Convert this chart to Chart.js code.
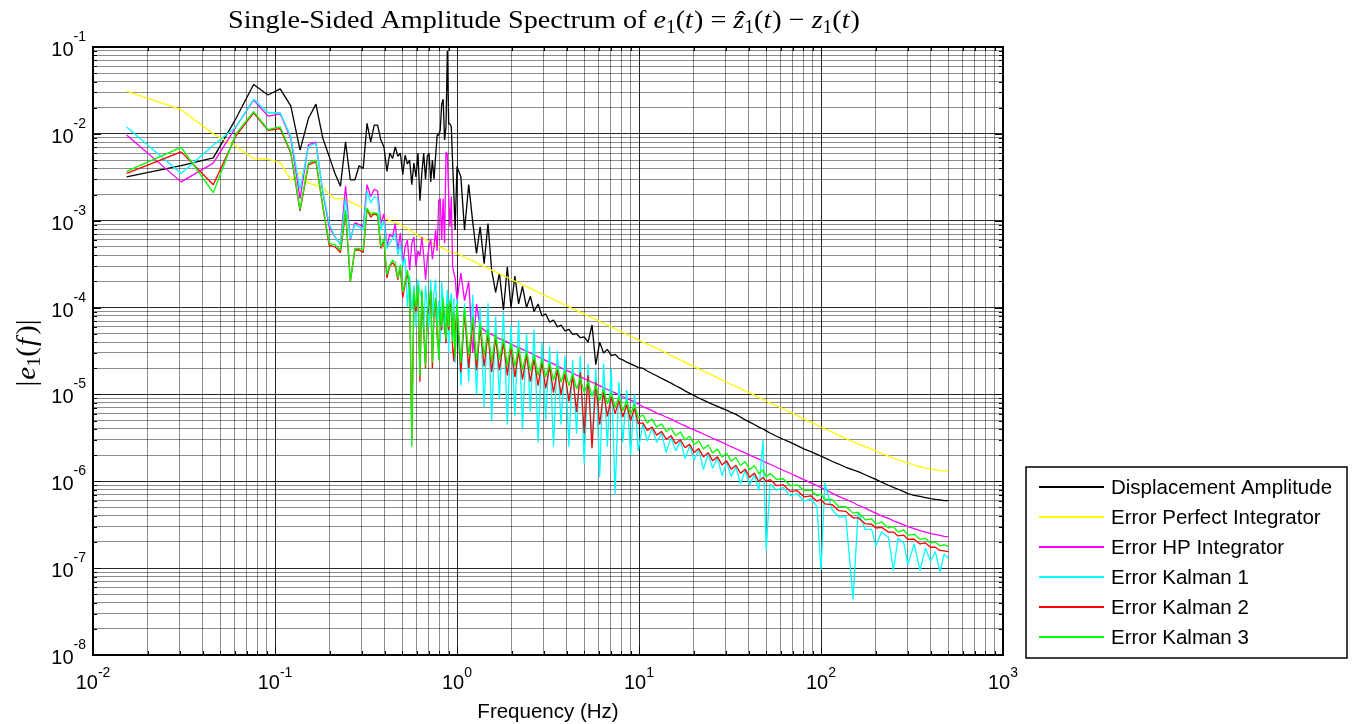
<!DOCTYPE html>
<html>
<head>
<meta charset="utf-8">
<title>Single-Sided Amplitude Spectrum</title>
<script src="https://cdn.jsdelivr.net/npm/chart.js@4.4.1/dist/chart.umd.min.js"></script>
<style>
  html, body { margin: 0; padding: 0; background: #fff; }
  #wrap { width: 1356px; height: 724px; }
</style>
</head>
<body>
<div id="wrap"><canvas id="spectrum" width="1356" height="724"></canvas></div>
<script>
// ---- data ----

// frequency axis (Hz): FFT bins below 1 Hz, then a reduced grid above
const freqHz = [
  0.0153, 0.0305, 0.0458, 0.0610, 0.0763, 0.0916, 0.1068, 0.1221, 0.1373, 0.1526,
  0.1678, 0.1831, 0.1984, 0.2136, 0.2289, 0.2441, 0.2594, 0.2747, 0.2899, 0.3052,
  0.3204, 0.3357, 0.3510, 0.3662, 0.3815, 0.3967, 0.4120, 0.4272, 0.4425, 0.4578,
  0.4730, 0.4883, 0.5035, 0.5188, 0.5341, 0.5493, 0.5646, 0.5798, 0.5951, 0.6104,
  0.6256, 0.6409, 0.6561, 0.6714, 0.6867, 0.7019, 0.7172, 0.7324, 0.7477, 0.7629,
  0.7782, 0.7935, 0.8087, 0.8240, 0.8392, 0.8545, 0.8698, 0.8850, 0.9003, 0.9155,
  0.9308, 0.9460, 0.9613, 0.9766,
  1.00, 1.05, 1.10, 1.16, 1.22, 1.28, 1.34, 1.41, 1.48, 1.55,
  1.63, 1.71, 1.80, 1.89, 1.98, 2.08, 2.18, 2.29, 2.41, 2.53,
  2.65, 2.79, 2.93, 3.07, 3.23, 3.39, 3.56, 3.73, 3.92, 4.12,
  4.32, 4.54, 4.76, 5.00, 5.25, 5.52, 5.79, 6.08, 6.39, 6.70,
  7.04, 7.39, 7.76, 8.15, 8.56, 8.99, 9.44, 9.91,
  10.5, 11.1, 11.8, 12.5, 13.3, 14.1, 15.0, 15.9, 16.9, 17.9,
  19.0, 20.1, 21.3, 22.6, 24.0, 25.4, 27.0, 28.6, 30.3, 32.1,
  34.1, 36.1, 38.3, 40.6, 43.0, 45.6, 48.0, 50.0, 52.5, 57,
  62, 68, 74, 81, 88, 95, 100, 105, 115, 125,
  137, 150, 160, 175, 190, 200, 215, 235, 250, 265,
  285, 300, 325, 350, 375, 400, 425, 450, 475, 500
];

const dispAmp = [
  3.2e-3, 4.3e-3, 5.3e-3, 1.5e-2, 3.7e-2, 2.8e-2, 3.3e-2, 2.1e-2, 6.5e-3, 1.5e-2,
  2.2e-2, 8.9e-3, 5.5e-3, 3.5e-3, 2.5e-3, 8.1e-3, 2.95e-3, 2.95e-3, 4.3e-3, 4.0e-3,
  1.32e-2, 8.1e-3, 1.26e-2, 1.26e-2, 8.5e-3, 7.1e-3, 3.7e-3, 6.0e-3, 5.2e-3, 7.1e-3,
  5.5e-3, 6.0e-3, 3.4e-3, 5.7e-3, 4.5e-3, 5.0e-3, 2.6e-3, 4.6e-3, 3.2e-3, 6.0e-3,
  1.7e-3, 3.5e-3, 6.0e-3, 3.0e-3, 5.5e-3, 6.0e-3, 2.8e-3, 5.0e-3, 3.0e-3, 5.5e-3,
  9.7e-3, 9.7e-3, 1.1e-2, 2.2e-2, 2.5e-2, 8.5e-3, 1.2e-2, 9.0e-2, 1.3e-2, 1.3e-2,
  1.2e-2, 4.6e-3, 2.0e-3, 7.8e-4,
  4.2e-3, 3.2e-3, 7.8e-4, 2.6e-3, 9.7e-4, 4.2e-4, 8.5e-4, 3.2e-4, 9.3e-4, 2.7e-4,
  1.5e-4, 2.5e-4, 9.4e-5, 2.95e-4, 1.0e-4, 2.3e-4, 1.1e-4, 1.75e-4, 1.0e-4, 1.35e-4,
  9.0e-5, 1.1e-4, 8.0e-5, 8.5e-5, 6.8e-5, 7.2e-5, 6.0e-5, 6.3e-5, 5.4e-5, 5.6e-5,
  4.9e-5, 5.0e-5, 4.5e-5, 4.6e-5, 4.0e-5, 6.3e-5, 2.2e-5, 4.0e-5, 3.0e-5, 3.3e-5,
  2.8e-5, 2.9e-5, 2.6e-5, 2.5e-5, 2.35e-5, 2.25e-5, 2.15e-5, 2.05e-5,
  2.0e-5, 1.86e-5, 1.74e-5, 1.64e-5, 1.53e-5, 1.44e-5, 1.35e-5, 1.26e-5, 1.18e-5, 1.10e-5,
  1.03e-5, 9.7e-6, 9.1e-6, 8.6e-6, 8.1e-6, 7.7e-6, 7.3e-6, 6.9e-6, 6.6e-6, 6.2e-6,
  5.9e-6, 5.5e-6, 5.1e-6, 4.8e-6, 4.5e-6, 4.2e-6, 4.0e-6, 3.8e-6, 3.6e-6, 3.3e-6,
  3.05e-6, 2.8e-6, 2.57e-6, 2.35e-6, 2.2e-6, 2.04e-6, 1.95e-6, 1.86e-6, 1.7e-6, 1.58e-6,
  1.45e-6, 1.35e-6, 1.29e-6, 1.19e-6, 1.1e-6, 1.05e-6, 9.8e-7, 9.0e-7, 8.5e-7, 8.1e-7,
  7.6e-7, 7.2e-7, 6.9e-7, 6.7e-7, 6.5e-7, 6.3e-7, 6.2e-7, 6.1e-7, 6.0e-7, 6.0e-7
];

const errPerfect = [
  3.1e-2, 1.9e-2, 1.0e-2, 7.2e-3, 5.2e-3, 5.1e-3, 4.7e-3, 2.95e-3, 3.6e-3, 2.7e-3,
  2.55e-3, 2.45e-3, 2.0e-3, 1.8e-3, 1.8e-3, 1.8e-3, 1.65e-3, 1.55e-3, 1.48e-3, 1.4e-3,
  1.33e-3, 1.25e-3, 1.2e-3, 1.15e-3, 1.1e-3, 1.07e-3, 1.04e-3, 1.0e-3, 9.7e-4, 9.5e-4,
  9.3e-4, 9.1e-4, 8.7e-4, 8.4e-4, 8.1e-4, 7.8e-4, 7.5e-4, 7.2e-4, 7.0e-4, 6.8e-4,
  6.6e-4, 6.4e-4, 6.2e-4, 6.0e-4, 5.9e-4, 5.7e-4, 5.6e-4, 5.5e-4, 5.35e-4, 5.2e-4,
  5.1e-4, 5.0e-4, 4.95e-4, 4.9e-4, 4.8e-4, 4.7e-4, 4.6e-4, 4.5e-4, 4.45e-4, 4.4e-4,
  4.35e-4, 4.3e-4, 4.25e-4, 4.2e-4,
  4.2e-4, 4.0e-4, 3.8e-4, 3.6e-4, 3.45e-4, 3.3e-4, 3.1e-4, 2.98e-4, 2.84e-4, 2.7e-4,
  2.58e-4, 2.46e-4, 2.33e-4, 2.22e-4, 2.12e-4, 2.02e-4, 1.93e-4, 1.83e-4, 1.74e-4, 1.66e-4,
  1.58e-4, 1.5e-4, 1.43e-4, 1.37e-4, 1.3e-4, 1.24e-4, 1.18e-4, 1.13e-4, 1.07e-4, 1.02e-4,
  9.7e-5, 9.3e-5, 8.8e-5, 8.4e-5, 8.0e-5, 7.6e-5, 7.3e-5, 6.9e-5, 6.6e-5, 6.3e-5,
  6.0e-5, 5.7e-5, 5.4e-5, 5.2e-5, 4.9e-5, 4.7e-5, 4.45e-5, 4.25e-5,
  4.0e-5, 3.8e-5, 3.6e-5, 3.4e-5, 3.2e-5, 3.0e-5, 2.8e-5, 2.65e-5, 2.5e-5, 2.35e-5,
  2.2e-5, 2.1e-5, 1.97e-5, 1.86e-5, 1.75e-5, 1.66e-5, 1.56e-5, 1.47e-5, 1.39e-5, 1.31e-5,
  1.24e-5, 1.17e-5, 1.1e-5, 1.04e-5, 9.8e-6, 9.2e-6, 8.8e-6, 8.4e-6, 8.0e-6, 7.4e-6,
  6.8e-6, 6.2e-6, 5.7e-6, 5.2e-6, 4.8e-6, 4.45e-6, 4.2e-6, 4.0e-6, 3.7e-6, 3.4e-6,
  3.1e-6, 2.85e-6, 2.7e-6, 2.5e-6, 2.33e-6, 2.23e-6, 2.1e-6, 1.95e-6, 1.85e-6, 1.77e-6,
  1.68e-6, 1.62e-6, 1.54e-6, 1.47e-6, 1.42e-6, 1.38e-6, 1.35e-6, 1.33e-6, 1.32e-6, 1.32e-6
];

const errHP = [
  9.7e-3, 2.8e-3, 4.6e-3, 1.2e-2, 2.45e-2, 1.6e-2, 1.7e-2, 8.9e-3, 1.8e-3, 7.5e-3,
  8.0e-3, 2.1e-3, 8.5e-4, 6.5e-4, 5.3e-4, 2.5e-3, 6.0e-4, 9.5e-4, 9.0e-4, 8.5e-4,
  2.6e-3, 1.9e-3, 2.3e-3, 2.2e-3, 9.3e-4, 1.2e-3, 5.0e-4, 7.0e-4, 6.5e-4, 9.3e-4,
  4.6e-4, 7.2e-4, 3.2e-4, 5.0e-4, 6.0e-4, 2.7e-4, 5.5e-4, 6.5e-4, 3.0e-4, 4.5e-4,
  3.9e-4, 6.5e-4, 4.0e-4, 2.1e-4, 3.6e-4, 5.0e-4, 6.2e-4, 3.6e-4, 5.0e-4, 7.8e-4,
  4.5e-4, 1.7e-3, 1.8e-3, 6.0e-4, 1.8e-3, 5.5e-4, 6.2e-3, 5.8e-3, 1.9e-3, 8.5e-4,
  1.9e-3, 2.95e-4, 2.5e-4, 2.2e-4,
  1.2e-4, 2.5e-4, 1.2e-4, 2.0e-4, 3.0e-5, 1.1e-4, 6.0e-5, 5.5e-5, 5.1e-5, 4.9e-5,
  4.6e-5, 4.4e-5, 4.2e-5, 4.0e-5, 3.8e-5, 3.6e-5, 3.45e-5, 3.3e-5, 3.15e-5, 3.0e-5,
  2.85e-5, 2.7e-5, 2.6e-5, 2.45e-5, 2.35e-5, 2.25e-5, 2.13e-5, 2.03e-5, 1.93e-5, 1.84e-5,
  1.75e-5, 1.67e-5, 1.6e-5, 1.52e-5, 1.45e-5, 1.38e-5, 1.32e-5, 1.26e-5, 1.2e-5, 1.14e-5,
  1.09e-5, 1.04e-5, 9.9e-6, 9.4e-6, 9.0e-6, 8.6e-6, 8.2e-6, 7.8e-6,
  7.2e-6, 6.9e-6, 6.5e-6, 6.1e-6, 5.8e-6, 5.5e-6, 5.2e-6, 4.9e-6, 4.6e-6, 4.35e-6,
  4.1e-6, 3.9e-6, 3.7e-6, 3.5e-6, 3.3e-6, 3.13e-6, 2.96e-6, 2.8e-6, 2.65e-6, 2.5e-6,
  2.37e-6, 2.24e-6, 2.12e-6, 2.0e-6, 1.9e-6, 1.8e-6, 1.71e-6, 1.64e-6, 1.57e-6, 1.45e-6,
  1.34e-6, 1.23e-6, 1.13e-6, 1.04e-6, 9.6e-7, 8.9e-7, 8.5e-7, 8.1e-7, 7.3e-7, 6.7e-7,
  6.2e-7, 5.7e-7, 5.3e-7, 4.9e-7, 4.5e-7, 4.3e-7, 4.0e-7, 3.75e-7, 3.5e-7, 3.35e-7,
  3.15e-7, 3.0e-7, 2.85e-7, 2.7e-7, 2.6e-7, 2.5e-7, 2.45e-7, 2.38e-7, 2.32e-7, 2.3e-7
];

const errKalman1 = [
  1.2e-2, 3.5e-3, 7.4e-3, 1.2e-2, 2.5e-2, 1.75e-2, 1.75e-2, 9.3e-3, 2.3e-3, 7.1e-3,
  7.8e-3, 2.2e-3, 9.3e-4, 6.5e-4, 5.3e-4, 1.8e-3, 6.2e-4, 9.0e-4, 8.5e-4, 7.8e-4,
  2.2e-3, 1.6e-3, 1.9e-3, 1.8e-3, 7.8e-4, 1.0e-3, 4.8e-4, 5.5e-4, 6.2e-4, 7.2e-4,
  4.0e-4, 5.5e-4, 3.0e-4, 3.7e-4, 1.0e-4, 2.3e-4, 9.4e-5, 1.8e-4, 6.0e-5, 2.1e-4,
  1.5e-4, 1.3e-4, 5.0e-5, 1.8e-4, 1.0e-4, 6.0e-5, 2.1e-4, 7.9e-5, 1.5e-4, 2.1e-4,
  6.0e-5, 1.2e-4, 4.0e-5, 2.0e-4, 1.1e-4, 5.0e-5, 8.6e-5, 1.6e-4, 3.0e-5, 1.2e-4,
  1.46e-4, 4.0e-5, 1.3e-4, 2.3e-5,
  1.26e-4, 1.26e-5, 1.12e-4, 1.4e-5, 1.4e-4, 1.0e-5, 1.0e-4, 7.1e-6, 1.12e-4, 5.0e-6,
  7.9e-5, 8.9e-6, 8.9e-5, 4.5e-6, 6.3e-5, 5.6e-6, 7.1e-5, 4.0e-6, 5.0e-5, 6.3e-6,
  5.6e-5, 2.8e-6, 4.0e-5, 5.0e-6, 3.55e-5, 2.5e-6, 3.15e-5, 4.5e-6, 2.8e-5, 2.5e-6,
  2.5e-5, 3.55e-6, 2.8e-5, 1.6e-6, 2.25e-5, 2.8e-6, 2.0e-5, 1.12e-6, 2.25e-5, 2.5e-6,
  2.0e-5, 7.1e-7, 1.4e-5, 2.8e-6, 1.12e-5, 2.0e-6, 1.0e-5, 2.25e-6,
  4.6e-6, 2.9e-6, 4.1e-6, 2.8e-6, 3.6e-6, 2.14e-6, 3.2e-6, 2.24e-6, 2.9e-6, 1.82e-6,
  2.57e-6, 1.76e-6, 2.3e-6, 1.37e-6, 2.06e-6, 1.41e-6, 1.85e-6, 1.16e-6, 1.66e-6, 1.14e-6,
  1.48e-6, 9.3e-7, 1.33e-6, 9.1e-7, 1.19e-6, 7.8e-7, 3.0e-6, 1.6e-7, 9.3e-7, 7.9e-7,
  8.5e-7, 6.8e-7, 7.2e-7, 5.9e-7, 6.3e-7, 5.1e-7, 9.4e-8, 9.6e-7, 4.7e-7, 3.9e-7,
  3.9e-7, 4.4e-8, 4.4e-7, 2.8e-7, 2.8e-7, 1.8e-7, 2.6e-7, 2.25e-7, 9.4e-8, 2.2e-7,
  1.95e-7, 1.1e-7, 1.9e-7, 9.4e-8, 1.7e-7, 1.2e-7, 1.55e-7, 9.0e-8, 1.45e-7, 1.3e-7
];

const errKalman2 = [
  3.5e-3, 6.2e-3, 2.6e-3, 9.5e-3, 1.75e-2, 1.1e-2, 1.15e-2, 6.0e-3, 1.3e-3, 4.4e-3,
  4.8e-3, 1.45e-3, 5.2e-4, 5.0e-4, 4.3e-4, 1.25e-3, 2.0e-4, 4.6e-4, 4.6e-4, 4.3e-4,
  1.35e-3, 1.1e-3, 1.2e-3, 1.15e-3, 4.8e-4, 5.8e-4, 2.2e-4, 3.0e-4, 3.3e-4, 3.0e-4,
  2.1e-4, 2.9e-4, 1.3e-4, 1.9e-4, 2.5e-4, 1.6e-4, 3.0e-6, 1.4e-4, 9.0e-5, 1.6e-4,
  1.4e-5, 1.5e-4, 5.5e-5, 2.0e-5, 7.9e-5, 1.1e-4, 1.5e-4, 2.0e-5, 8.5e-5, 1.2e-4,
  4.5e-5, 3.3e-5, 9.5e-5, 5.5e-5, 1.2e-4, 6.5e-5, 3.9e-5, 1.0e-4, 5.5e-5, 1.1e-4,
  1.0e-4, 3.5e-5, 2.4e-5, 5.0e-5,
  1.0e-4, 1.8e-5, 8.9e-5, 2.0e-5, 7.1e-5, 1.9e-5, 6.0e-5, 2.1e-5, 5.0e-5, 1.8e-5,
  4.5e-5, 1.9e-5, 4.0e-5, 1.66e-5, 3.55e-5, 1.58e-5, 3.15e-5, 1.48e-5, 2.8e-5, 1.4e-5,
  2.55e-5, 1.26e-5, 2.35e-5, 1.17e-5, 2.1e-5, 1.05e-5, 1.9e-5, 1.0e-5, 1.74e-5, 8.3e-6,
  1.66e-5, 6.3e-6, 1.8e-5, 3.55e-6, 1.66e-5, 2.4e-6, 1.4e-5, 4.5e-6, 1.07e-5, 5.6e-6,
  9.3e-6, 6.0e-6, 8.5e-6, 5.5e-6, 7.6e-6, 5.0e-6, 6.9e-6, 4.6e-6,
  4.7e-6, 3.85e-6, 4.2e-6, 3.4e-6, 3.75e-6, 3.05e-6, 3.35e-6, 2.7e-6, 3.0e-6, 2.43e-6,
  2.66e-6, 2.14e-6, 2.38e-6, 1.91e-6, 2.13e-6, 1.72e-6, 1.91e-6, 1.54e-6, 1.72e-6, 1.38e-6,
  1.53e-6, 1.24e-6, 1.38e-6, 1.11e-6, 1.24e-6, 9.9e-7, 1.11e-6, 9.9e-7, 1.05e-6, 8.9e-7,
  9.1e-7, 7.6e-7, 7.8e-7, 6.6e-7, 6.8e-7, 5.9e-7, 6.2e-7, 5.5e-7, 5.4e-7, 4.6e-7,
  4.5e-7, 3.8e-7, 3.8e-7, 3.25e-7, 3.2e-7, 2.9e-7, 2.95e-7, 2.6e-7, 2.6e-7, 2.35e-7,
  2.4e-7, 2.15e-7, 2.15e-7, 1.9e-7, 1.95e-7, 1.74e-7, 1.74e-7, 1.6e-7, 1.58e-7, 1.55e-7
];

const errKalman3 = [
  3.7e-3, 7.0e-3, 2.1e-3, 1.0e-2, 1.8e-2, 1.12e-2, 1.2e-2, 6.2e-3, 1.35e-3, 4.6e-3,
  5.0e-3, 1.5e-3, 5.5e-4, 5.3e-4, 4.6e-4, 1.33e-3, 2.0e-4, 4.8e-4, 4.8e-4, 4.6e-4,
  1.4e-3, 1.17e-3, 1.24e-3, 1.2e-3, 5.0e-4, 6.2e-4, 2.4e-4, 3.1e-4, 3.5e-4, 3.3e-4,
  2.2e-4, 3.1e-4, 1.5e-4, 2.0e-4, 2.7e-4, 1.7e-4, 2.5e-6, 1.6e-4, 1.0e-4, 1.8e-4,
  1.6e-5, 1.6e-4, 6.0e-5, 2.1e-5, 8.6e-5, 1.2e-4, 1.6e-4, 2.3e-5, 9.0e-5, 1.3e-4,
  5.0e-5, 2.5e-5, 1.0e-4, 6.0e-5, 1.3e-4, 7.0e-5, 4.3e-5, 1.1e-4, 6.0e-5, 1.2e-4,
  1.1e-4, 4.0e-5, 9.0e-5, 2.7e-5,
  1.1e-4, 2.3e-5, 9.8e-5, 2.8e-5, 7.9e-5, 2.45e-5, 6.6e-5, 2.8e-5, 5.6e-5, 2.35e-5,
  5.0e-5, 2.5e-5, 4.4e-5, 2.15e-5, 3.9e-5, 2.1e-5, 3.55e-5, 1.9e-5, 3.15e-5, 1.86e-5,
  2.9e-5, 1.66e-5, 2.55e-5, 1.58e-5, 2.3e-5, 1.45e-5, 2.1e-5, 1.38e-5, 1.9e-5, 1.26e-5,
  1.74e-5, 1.15e-5, 1.55e-5, 1.05e-5, 1.4e-5, 9.5e-6, 1.26e-5, 8.5e-6, 1.15e-5, 7.8e-6,
  1.05e-5, 7.1e-6, 9.5e-6, 6.5e-6, 8.5e-6, 5.9e-6, 7.8e-6, 5.4e-6,
  5.8e-6, 4.7e-6, 5.2e-6, 4.2e-6, 4.6e-6, 3.75e-6, 4.1e-6, 3.35e-6, 3.7e-6, 3.0e-6,
  3.3e-6, 2.63e-6, 2.93e-6, 2.35e-6, 2.62e-6, 2.11e-6, 2.35e-6, 1.9e-6, 2.11e-6, 1.7e-6,
  1.88e-6, 1.52e-6, 1.69e-6, 1.36e-6, 1.52e-6, 1.22e-6, 1.36e-6, 1.12e-6, 1.23e-6, 1.05e-6,
  1.07e-6, 8.9e-7, 9.1e-7, 7.8e-7, 7.9e-7, 6.8e-7, 7.1e-7, 6.2e-7, 6.2e-7, 5.1e-7,
  5.1e-7, 4.3e-7, 4.4e-7, 3.6e-7, 3.7e-7, 3.2e-7, 3.4e-7, 2.9e-7, 3.0e-7, 2.6e-7,
  2.75e-7, 2.4e-7, 2.45e-7, 2.15e-7, 2.2e-7, 1.95e-7, 2.0e-7, 1.8e-7, 1.86e-7, 1.77e-7
];

const seriesNames = ['Displacement Amplitude', 'Error Perfect Integrator', 'Error HP Integrator',
  'Error Kalman 1', 'Error Kalman 2', 'Error Kalman 3'];
const seriesValues = [dispAmp, errPerfect, errHP, errKalman1, errKalman2, errKalman3];

// decade exponents used for the tick labels
const xDecades = [-2, -1, 0, 1, 2, 3];
const yDecades = [-8, -7, -6, -5, -4, -3, -2, -1];

// ---- styling ----
const seriesColors = ['#000000', '#ffff00', '#ff00ff', '#00ffff', '#ff0000', '#00ff00'];
const SANS = '"Liberation Sans", Arial, sans-serif';
const SERIF = '"Liberation Serif", "Times New Roman", serif';
const GRID_MAJOR = 'rgba(0,0,0,0.85)';
const GRID_MINOR = 'rgba(0,0,0,0.45)';
const LINE_WIDTH = 1.3;

(function () {
  /**
   * Build 1..9 x 10^e ticks for a log axis from its decade list.
   */
  function decadeTicks(decades) {
    const ticks = [];
    for (let i = 0; i < decades.length - 1; i++) {
      for (let m = 1; m <= 9; m++) {
        ticks.push({ value: Number((m * Math.pow(10, decades[i])).toPrecision(6)), major: m === 1 });
      }
    }
    ticks.push({ value: Math.pow(10, decades[decades.length - 1]), major: true });
    return ticks;
  }

  // draw a run of text pieces with different fonts, left to right
  function richWidth(ctx, parts) {
    let w = 0;
    parts.forEach((p) => {
      ctx.font = p.font;
      w += ctx.measureText(p.text).width + (p.gap || 0);
    });
    return w;
  }

  function drawRich(ctx, parts, x, y) {
    let cx = x;
    ctx.textAlign = 'left';
    ctx.textBaseline = 'alphabetic';
    parts.forEach((p) => {
      ctx.font = p.font;
      const w = ctx.measureText(p.text).width;
      ctx.fillText(p.text, cx, y + (p.dy || 0));
      if (p.hat) {
        ctx.font = p.hatFont;
        const hw = ctx.measureText('\u02C6').width;
        ctx.fillText('\u02C6', cx + (w - hw) / 2 + 2, y + 1);
      }
      cx += w + (p.gap || 0);
    });
  }

  // "10" with a raised exponent, like MATLAB's log tick labels
  function drawPower(ctx, exp, x, y, align, raise) {
    const base = '10';
    const sup = String(exp);
    ctx.font = '20px ' + SANS;
    const wb = ctx.measureText(base).width;
    ctx.font = '14px ' + SANS;
    const ws = ctx.measureText(sup).width;
    const x0 = align === 'right' ? x - wb - ws : x - (wb + ws) / 2;
    ctx.textAlign = 'left';
    ctx.textBaseline = 'alphabetic';
    ctx.font = '20px ' + SANS;
    ctx.fillText(base, x0, y);
    ctx.font = '14px ' + SANS;
    ctx.fillText(sup, x0 + wb, y - raise);
  }

  const decorations = {
    id: 'decorations',
    afterDraw(chart) {
      const ctx = chart.ctx;
      const a = chart.chartArea;
      const xs = chart.scales.x;
      const ys = chart.scales.y;
      ctx.save();

      // inward tick marks on all four sides
      ctx.strokeStyle = '#000';
      ctx.lineWidth = 1;
      ctx.beginPath();
      xs.ticks.forEach((t) => {
        const px = Math.round(xs.getPixelForValue(t.value)) + 0.5;
        const len = t.major ? 8 : 4;
        ctx.moveTo(px, a.bottom);
        ctx.lineTo(px, a.bottom - len);
        ctx.moveTo(px, a.top);
        ctx.lineTo(px, a.top + len);
      });
      ys.ticks.forEach((t) => {
        const py = Math.round(ys.getPixelForValue(t.value)) + 0.5;
        const len = t.major ? 8 : 4;
        ctx.moveTo(a.left, py);
        ctx.lineTo(a.left + len, py);
        ctx.moveTo(a.right, py);
        ctx.lineTo(a.right - len, py);
      });
      ctx.stroke();

      // axes box
      ctx.lineWidth = 2;
      ctx.strokeRect(a.left, a.top, a.right - a.left, a.bottom - a.top);

      // tick labels
      ctx.fillStyle = '#000';
      xDecades.forEach((e) => {
        drawPower(ctx, e, xs.getPixelForValue(Math.pow(10, e)), a.bottom + 34, 'center', 12);
      });
      yDecades.forEach((e) => {
        drawPower(ctx, e, 86, ys.getPixelForValue(Math.pow(10, e)) + 9, 'right', 15);
      });

      // x axis title
      ctx.font = '20.5px ' + SANS;
      ctx.textAlign = 'center';
      ctx.textBaseline = 'alphabetic';
      ctx.fillText('Frequency (Hz)', (a.left + a.right) / 2, 718);

      // title (LaTeX style)
      const T = 26;
      const rm = T + 'px ' + SERIF;
      const it = 'italic ' + T + 'px ' + SERIF;
      const sb = Math.round(T * 0.7) + 'px ' + SERIF;
      const titleParts = [
        { text: 'Single-Sided Amplitude Spectrum of ', font: rm },
        { text: 'e', font: it }, { text: '1', font: sb, dy: 5 },
        { text: '(', font: rm }, { text: 't', font: it, gap: 1 }, { text: ')', font: rm },
        { text: ' = ', font: rm },
        { text: 'z', font: it, hat: true, hatFont: rm }, { text: '1', font: sb, dy: 5 },
        { text: '(', font: rm }, { text: 't', font: it, gap: 1 }, { text: ')', font: rm },
        { text: ' \u2212 ', font: rm },
        { text: 'z', font: it }, { text: '1', font: sb, dy: 5 },
        { text: '(', font: rm }, { text: 't', font: it, gap: 1 }, { text: ')', font: rm }
      ];
      const titleLeft = 228, titleRight = 860;
      const tw = richWidth(ctx, titleParts);
      ctx.save();
      ctx.translate(titleLeft, 28);
      ctx.scale((titleRight - titleLeft) / tw, 1);
      drawRich(ctx, titleParts, 0, 0);
      ctx.restore();

      // y axis title |e_1(f)|
      const Y = 27;
      const yrm = Y + 'px ' + SERIF;
      const yit = 'italic ' + Y + 'px ' + SERIF;
      const ysb = Math.round(Y * 0.7) + 'px ' + SERIF;
      const yParts = [
        { text: '|', font: yrm, gap: 1 },
        { text: 'e', font: yit }, { text: '1', font: ysb, dy: 5 },
        { text: '(', font: yrm, gap: 1 }, { text: 'f', font: yit, gap: 3 }, { text: ')', font: yrm },
        { text: '|', font: yrm }
      ];
      const yLen = 67;
      const yw = richWidth(ctx, yParts);
      ctx.save();
      ctx.translate(35, 353 + yLen / 2);
      ctx.rotate(-Math.PI / 2);
      ctx.scale(yLen / yw, 1);
      drawRich(ctx, yParts, 0, 0);
      ctx.restore();

      // legend box outside the axes
      const box = { left: 1026, top: 467, right: 1347, bottom: 658 };
      ctx.fillStyle = '#fff';
      ctx.fillRect(box.left, box.top, box.right - box.left, box.bottom - box.top);
      ctx.strokeStyle = '#000';
      ctx.lineWidth = 1.5;
      ctx.strokeRect(box.left, box.top, box.right - box.left, box.bottom - box.top);
      ctx.font = '20.5px ' + SANS;
      ctx.textAlign = 'left';
      ctx.textBaseline = 'middle';
      seriesNames.forEach((name, i) => {
        const ry = Math.round(487 + i * 30);
        ctx.fillStyle = seriesColors[i];
        ctx.fillRect(1039, ry - 1, 65, 2);
        ctx.fillStyle = '#000';
        ctx.fillText(name, 1111, ry + 1);
      });

      ctx.restore();
    }
  };

  function init() {
    seriesValues.forEach((vals, i) => {
      if (vals.length !== freqHz.length) {
        console.warn(seriesNames[i] + ': ' + vals.length + ' values for ' + freqHz.length + ' frequencies');
      }
    });

    const datasets = seriesValues.map((vals, i) => ({
      label: seriesNames[i],
      data: freqHz.map((f, j) => ({ x: f, y: vals[j] })),
      borderColor: seriesColors[i],
      backgroundColor: seriesColors[i],
      borderWidth: LINE_WIDTH,
      pointRadius: 0,
      tension: 0,
      fill: false,
      borderJoinStyle: 'bevel',
      order: seriesValues.length - 1 - i // later series drawn on top, as in MATLAB
    }));

    const gridColor = (c) => (c.tick && c.tick.major ? GRID_MAJOR : GRID_MINOR);

    new Chart(document.getElementById('spectrum'), {
      type: 'line',
      data: { datasets: datasets },
      options: {
        responsive: false,
        devicePixelRatio: 1,
        animation: false,
        events: [],
        normalized: true,
        layout: { padding: { left: 0, top: 47, right: 353, bottom: 0 } },
        plugins: {
          legend: { display: false },
          title: { display: false },
          tooltip: { enabled: false }
        },
        scales: {
          x: {
            type: 'logarithmic',
            min: 0.01,
            max: 1000,
            afterBuildTicks: (s) => { s.ticks = decadeTicks(xDecades); },
            afterFit: (s) => { s.height = 69; },
            ticks: { display: false, autoSkip: false },
            border: { display: false },
            grid: { color: gridColor, lineWidth: 1, drawTicks: false }
          },
          y: {
            type: 'logarithmic',
            min: 1e-8,
            max: 1e-1,
            afterBuildTicks: (s) => { s.ticks = decadeTicks(yDecades); },
            afterFit: (s) => { s.width = 93; },
            ticks: { display: false, autoSkip: false },
            border: { display: false },
            grid: { color: gridColor, lineWidth: 1, drawTicks: false }
          }
        }
      },
      plugins: [decorations]
    });
  }

  document.addEventListener('DOMContentLoaded', init);
})();
</script>
</body>
</html>
